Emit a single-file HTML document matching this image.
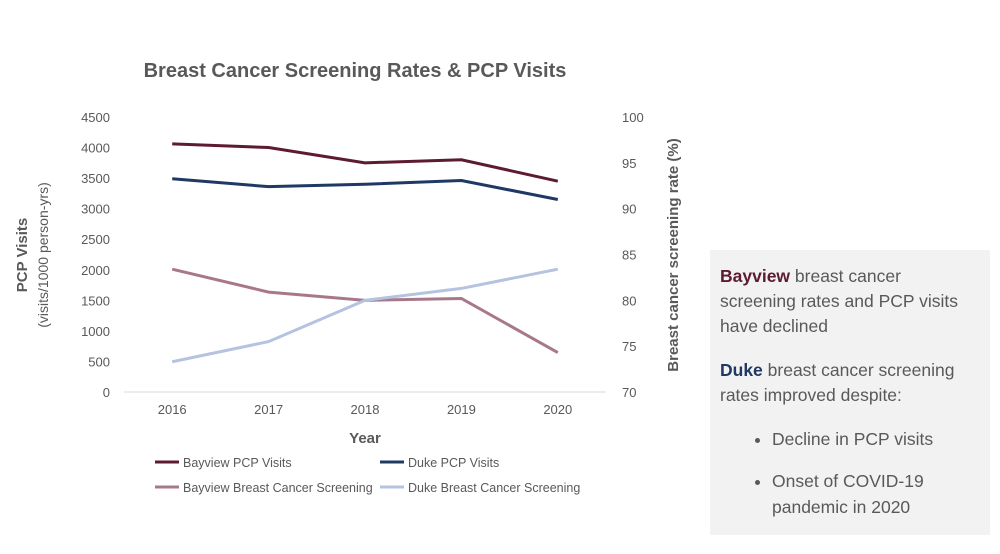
<!DOCTYPE html>
<html><head><meta charset="utf-8"><style>
body{margin:0;width:1000px;height:554px;background:#fff;font-family:"Liberation Sans",sans-serif;overflow:hidden;position:relative}
#panel{position:absolute;left:710px;top:250px;width:280px;height:285px;background:#f2f2f2}
#panel p{margin:0;position:absolute;left:10px;width:258px;font-size:17.5px;line-height:25px;color:#595959}
#panel li{font-size:17.5px;color:#595959;line-height:26px}
</style></head><body>
<svg id="chart" width="700" height="554" style="position:absolute;left:0;top:0"></svg>
<div id="panel">
<p style="top:14px"><b style="color:#5c1a33">Bayview</b> breast cancer screening rates and PCP visits have declined</p>
<p style="top:108px"><b style="color:#1f3864">Duke</b> breast cancer screening rates improved despite:</p>
<ul style="position:absolute;left:22px;top:176px;margin:0;padding-left:40px;width:200px">
<li style="margin-bottom:16px">Decline in PCP visits</li>
<li>Onset of COVID-19 pandemic in 2020</li></ul>
</div>
<script>
const years=["2016","2017","2018","2019","2020"];
const bayviewPCP=[4060,4000,3750,3800,3450];
const dukePCP=[3490,3360,3400,3460,3150];
const bayviewScreen=[83.4,80.9,80.0,80.2,74.3];
const dukeScreen=[73.3,75.5,80.0,81.3,83.4];
const leftTicks=[0,500,1000,1500,2000,2500,3000,3500,4000,4500];
const rightTicks=[70,75,80,85,90,95,100];
const NS="http://www.w3.org/2000/svg",svg=document.getElementById('chart');
const top0=117,bot=392,x0=124,x1=606;
const yL=v=>bot-(v/4500)*(bot-top0);
const yR=v=>bot-((v-70)/30)*(bot-top0);
const xS=i=>x0+(x1-x0)/years.length*(i+0.5);
function mk(t,a,txt){const e=document.createElementNS(NS,t);for(const k in a)e.setAttribute(k,a[k]);if(txt!=null)e.textContent=txt;svg.appendChild(e);return e;}
let e=mk('text',{x:355,y:77,'text-anchor':'middle','font-size':20,'font-weight':'bold',fill:'#595959'},'Breast Cancer Screening Rates & PCP Visits');

e=mk('line',{x1:x0,x2:x1,y1:bot,y2:bot,stroke:'#d9d9d9'});

leftTicks.forEach(v=>{const t=mk('text',{x:110,y:yL(v)+5,'text-anchor':'end','font-size':13,fill:'#595959'},v);
});
rightTicks.forEach(v=>{const t=mk('text',{x:622,y:yR(v)+5,'font-size':13,fill:'#595959'},v);
});
years.forEach((y,i)=>{const t=mk('text',{x:xS(i),y:414,'text-anchor':'middle','font-size':13,fill:'#595959'},y);
});
e=mk('text',{x:365,y:443,'text-anchor':'middle','font-size':15,'font-weight':'bold',fill:'#595959'},'Year');

e=mk('text',{transform:'translate(27,255) rotate(-90)','text-anchor':'middle','font-size':15,'font-weight':'bold',fill:'#595959'},'PCP Visits');

e=mk('text',{transform:'translate(48,255) rotate(-90)','text-anchor':'middle','font-size':14,fill:'#595959'},'(visits/1000 person-yrs)');

e=mk('text',{transform:'translate(678,255) rotate(-90)','text-anchor':'middle','font-size':15,'font-weight':'bold',fill:'#595959'},'Breast cancer screening rate (%)');

const series=[[bayviewPCP,yL,'#5c1a33','bayview-pcp-line'],[dukePCP,yL,'#1f3864','duke-pcp-line'],[bayviewScreen,yR,'#a8788a','bayview-screening-line'],[dukeScreen,yR,'#b4c3e0','duke-screening-line']];
series.forEach(([d,f,c,n])=>{const l=mk('polyline',{points:d.map((v,i)=>xS(i)+','+f(v)).join(' '),fill:'none',stroke:c,'stroke-width':3});
});
const leg=[['Bayview PCP Visits','#5c1a33',155,466],['Duke PCP Visits','#1f3864',380,466],['Bayview Breast Cancer Screening','#a8788a',155,491],['Duke Breast Cancer Screening','#b4c3e0',380,491]];
leg.forEach(([t,c,x,y])=>{const l=mk('line',{x1:x,x2:x+24,y1:y-4,y2:y-4,stroke:c,'stroke-width':3});

const tx=mk('text',{x:x+28,y:y+1,'font-size':12.5,fill:'#595959'},t);
});
</script>
</body></html>
